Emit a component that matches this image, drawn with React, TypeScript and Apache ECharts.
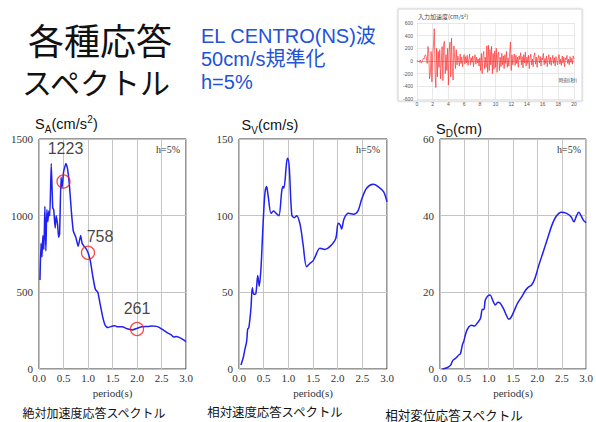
import React, { useEffect, useRef } from "react";
import * as echarts from "echarts";

// ---- Absolute acceleration response spectrum S_A (cm/s^2)
const saPeriods = [0.02, 0.04, 0.06, 0.08, 0.10, 0.12, 0.14, 0.16, 0.18, 0.20, 0.22, 0.25, 0.28, 0.30, 0.33, 0.35, 0.38, 0.40, 0.42, 0.45, 0.47, 0.50, 0.52, 0.55, 0.58, 0.62, 0.66, 0.70, 0.75, 0.80, 0.85, 0.88, 0.92, 0.95, 1.00, 1.05, 1.10, 1.15, 1.20, 1.25, 1.30, 1.35, 1.40, 1.50, 1.55, 1.60, 1.70, 1.80, 1.90, 2.00, 2.10, 2.20, 2.30, 2.40, 2.50, 2.60, 2.70, 2.75, 2.80, 2.85, 2.90, 2.95, 3.00];
const saValues = [580, 820, 730, 870, 780, 1060, 770, 1040, 960, 1030, 1000, 1340, 1050, 1040, 920, 1000, 940, 860, 880, 1250, 1180, 1280, 1310, 1340, 1310, 1200, 1030, 900, 860, 800, 870, 820, 800, 790, 760, 700, 600, 520, 500, 420, 340, 285, 270, 280, 282, 275, 275, 262, 255, 265, 275, 277, 280, 278, 262, 240, 222, 208, 212, 208, 200, 190, 178];

// marked points on S_A
const markPeriods = [0.5, 1.0, 2.0];
const markValues = [1223, 758, 261];

// ---- Relative velocity response spectrum S_V (cm/s)
const svPeriods = [0.04, 0.09, 0.12, 0.155, 0.176, 0.20, 0.243, 0.27, 0.30, 0.34, 0.38, 0.41, 0.446, 0.49, 0.527, 0.56, 0.59, 0.65, 0.70, 0.77, 0.81, 0.865, 0.89, 0.91, 0.966, 0.99, 1.02, 1.07, 1.12, 1.17, 1.24, 1.30, 1.37, 1.44, 1.50, 1.54, 1.64, 1.74, 1.84, 1.96, 2.01, 2.05, 2.08, 2.13, 2.22, 2.32, 2.41, 2.49, 2.59, 2.72, 2.82, 2.93, 3.00];
const svValues = [2.6, 8, 13, 18, 26, 27, 40, 53, 48.7, 49, 61, 54, 66, 96, 115, 119, 113, 101.5, 103, 101, 100, 115.6, 119, 118, 135, 137.4, 131, 100.4, 98.7, 100, 94, 81, 66.7, 69, 70.5, 73, 78.7, 78, 79.8, 85, 95, 94, 91.3, 98, 101.5, 101, 103, 111, 118, 120.5, 119, 115.6, 109];

// ---- Relative displacement response spectrum S_D (cm)
const sdPeriods = [0.05, 0.155, 0.22, 0.26, 0.32, 0.39, 0.42, 0.46, 0.49, 0.54, 0.595, 0.65, 0.71, 0.76, 0.83, 0.87, 0.90, 0.93, 0.985, 1.03, 1.08, 1.135, 1.19, 1.24, 1.30, 1.36, 1.41, 1.46, 1.53, 1.59, 1.68, 1.76, 1.81, 1.88, 1.95, 2.02, 2.12, 2.22, 2.30, 2.39, 2.49, 2.60, 2.69, 2.75, 2.80, 2.85, 2.90, 2.95, 3.00];
const sdValues = [0, 0.4, 1, 2.2, 2.8, 3.7, 4, 6.3, 7.3, 9.7, 11, 11.4, 11.2, 11.9, 13.2, 15.6, 15.5, 18, 19.1, 19.3, 18, 16.7, 17.4, 17.1, 15.8, 14.1, 13, 13.5, 15.4, 17.1, 18.9, 20.6, 21.3, 21.9, 23.7, 26.7, 30.6, 34.5, 37.6, 39.9, 40.9, 40.6, 39.7, 38.4, 39.9, 40.9, 39.9, 38.7, 38.2];

// ---- Input acceleration (cm/s^2), sampled every 0.1 s from 0 s
const accelStep = 0.1;
const accelValues = [
  0, 5, -10, -20, 15, -25, -30, 10, 40, 30, 80,
  100, 50, -40, 230, 120, -280, -200, 150, -330, 100,
  250, 510, -150, -420, 200, -250, 150, -100, 180, -280,
  -20, 230, -310, 280, 310, -200, 100, -150, 200, -380,
  150, 300, -250, 360, -100, -300, 240, 50, -120, 180,
  -60, 80, 30, -80, 110, -40, 60, -90, 40, 100,
  -50, 70, -30, 90, -70, 20, 110, -60, 50, -20,
  80, -90, 40, 100, -50, 60, -30, 30, -80, 50,
  -150, 120, -200, 80, 150, -120, 60, -100, 240, -180,
  250, -150, 180, -60, 230, -200, 120, -130, 160, -100,
  200, -180, 90, 140, -150, 60, -90, 120, -60, 80,
  -120, 100, -40, 150, -100, 50, -80, 120, 300, -150,
  100, -60, 40, 110, -70, 90, -40, 60, -100, 80,
  20, 130, -60, 70, -110, 100, -30, 140, -80, 60,
  -40, 90, -120, 50, 110, -60, 30, -90, 80, 130,
  -50, 60, -100, 40, 90, -30, 70, -80, 50, 20,
  120, -60, 40, -40, 80, -90, 30, 100, -50, 60,
  -70, 20, 90, -40, 50, -80, 70, 10, -60, 40,
  100, -50, 30, -70, 80, -30, 60, -90, 50, 20,
  90, -40, 30, -60, 70, -20, 40, -50, 80, 30,
];

const serif = "'Liberation Serif', 'DejaVu Serif', serif";
const sans = "'Liberation Sans', Arial, 'Noto Sans CJK JP', sans-serif";
const cjk = "'Noto Sans CJK JP', 'Liberation Sans', sans-serif";
const lineBlue = "#2020f0";

function pairs(xs: number[], ys: number[]) {
  return xs.map((x, i) => [x, ys[i]]);
}

function specX(gridIndex: number) {
  return {
    type: "value",
    gridIndex,
    min: 0,
    max: 3,
    interval: 0.5,
    axisLine: { show: false },
    axisTick: { show: false },
    splitLine: { show: true, lineStyle: { color: "#c4c4c4", width: 1 } },
    axisLabel: {
      formatter: (v: number) => v.toFixed(1),
      fontFamily: serif,
      fontSize: 11,
      color: "#333",
      margin: 3,
    },
    name: "period(s)",
    nameLocation: "middle",
    nameGap: 17,
    nameTextStyle: { fontFamily: serif, fontSize: 11, color: "#333" },
  };
}

function specY(gridIndex: number, max: number, interval: number) {
  return {
    type: "value",
    gridIndex,
    min: 0,
    max,
    interval,
    axisLine: { show: false },
    axisTick: { show: false },
    splitLine: { show: true, lineStyle: { color: "#c4c4c4", width: 1 } },
    axisLabel: { fontFamily: serif, fontSize: 11, color: "#333", margin: 6, formatter: (v: number) => String(v) },
  };
}

function txt(text: string, x: number, y: number, fontSize: number, fontFamily: string, fill: string, align = "left") {
  return {
    type: "text",
    x,
    y,
    z: 10,
    style: { text, fontSize, fontFamily, fill, align, verticalAlign: "middle", lineHeight: fontSize },
  };
}

export default function App() {
  const ref = useRef<HTMLDivElement>(null);
  useEffect(() => {
    const chart = echarts.init(ref.current!, null, { renderer: "svg" });
    const gridBase = { show: true, borderColor: "#333", borderWidth: 1, backgroundColor: "#fff", containLabel: false };
    const option: any = {
      animation: false,
      backgroundColor: "#fff",
      grid: [
        { left: 417, right: 22, top: 23, bottom: 323, show: false, containLabel: false },
        { ...gridBase, left: 39, width: 147, top: 139, height: 230 },
        { ...gridBase, left: 239, width: 148, top: 139, height: 230 },
        { ...gridBase, left: 440, width: 148, top: 139, height: 230 },
      ],
      xAxis: [
        {
          type: "value",
          gridIndex: 0,
          min: 0,
          max: 20,
          interval: 2,
          axisLine: { show: true, onZero: true, lineStyle: { color: "#999", width: 0.6 } },
          axisTick: { show: false },
          splitLine: { show: true, lineStyle: { color: "#d8d8d8", width: 0.6 } },
          axisLabel: { fontSize: 5, color: "#555", margin: 2, fontFamily: sans },
        },
        specX(1),
        specX(2),
        specX(3),
      ],
      yAxis: [
        {
          type: "value",
          gridIndex: 0,
          min: -600,
          max: 600,
          interval: 200,
          axisLine: { show: false },
          axisTick: { show: false },
          splitLine: { show: true, lineStyle: { color: "#d8d8d8", width: 0.6 } },
          axisLabel: { fontSize: 5, color: "#555", margin: 4, fontFamily: sans },
        },
        specY(1, 1500, 500),
        specY(2, 150, 50),
        specY(3, 60, 20),
      ],
      series: [
        {
          type: "line",
          xAxisIndex: 0,
          yAxisIndex: 0,
          data: accelValues.map((v, i) => [i * accelStep, v]),
          showSymbol: false,
          lineStyle: { color: "#ff3333", width: 0.7 },
        },
        {
          type: "line",
          xAxisIndex: 1,
          yAxisIndex: 1,
          data: pairs(saPeriods, saValues),
          showSymbol: false,
          smooth: 0.15,
          lineStyle: { color: lineBlue, width: 1.5 },
        },
        {
          type: "scatter",
          xAxisIndex: 1,
          yAxisIndex: 1,
          symbol: "circle",
          symbolSize: 13,
          z: 5,
          itemStyle: { color: "rgba(0,0,0,0)", borderColor: "#ff1a1a", borderWidth: 1.3 },
          label: {
            show: true,
            position: "top",
            distance: 5,
            fontSize: 16,
            fontFamily: sans,
            color: "#111",
            formatter: (p: any) => String(p.value[1]),
          },
          data: markPeriods.map((x, i) => ({
            value: [x, markValues[i]],
            label: { offset: i === 0 ? [2, -13] : i === 1 ? [12, 4] : [0, 0] },
          })),
        },
        {
          type: "line",
          xAxisIndex: 2,
          yAxisIndex: 2,
          data: pairs(svPeriods, svValues),
          showSymbol: false,
          smooth: 0.3,
          lineStyle: { color: lineBlue, width: 1.5 },
        },
        {
          type: "line",
          xAxisIndex: 3,
          yAxisIndex: 3,
          data: pairs(sdPeriods, sdValues),
          showSymbol: false,
          smooth: 0.3,
          lineStyle: { color: lineBlue, width: 1.5 },
        },
      ],
      graphic: [
        {
          type: "rect",
          z: -10,
          shape: { x: 398, y: 9, width: 184, height: 92 },
          style: { fill: "#fff", stroke: "#d4d4d4", lineWidth: 1, shadowBlur: 2, shadowColor: "rgba(0,0,0,0.15)" },
        },
        txt("各種応答", 28, 39, 36, cjk, "#111"),
        txt("スペクトル", 22, 81, 30, cjk, "#111"),
        txt("EL CENTRO(NS)波", 201, 36, 20, sans, "#2352d6"),
        txt("50cm/s規準化", 201, 59, 20, sans, "#2352d6"),
        txt("h=5%", 201, 82, 20, sans, "#2352d6"),
        txt("入力加速度(cm/s²)", 418, 16, 6, cjk, "#444"),
        txt("時刻(秒)", 568, 79, 5, cjk, "#444", "center"),
        // S_A title
        txt("S", 35, 124, 14.5, sans, "#111"),
        txt("A", 44.8, 129, 10, sans, "#111"),
        txt("(cm/s", 51.5, 124, 14.5, sans, "#111"),
        txt("2", 87.3, 119.5, 10, sans, "#111"),
        txt(")", 93, 124, 14.5, sans, "#111"),
        // S_V title
        txt("S", 241.5, 125, 14.5, sans, "#111"),
        txt("V", 251.2, 130.5, 10, sans, "#111"),
        txt("(cm/s)", 258, 125, 14.5, sans, "#111"),
        // S_D title
        txt("S", 436, 128.5, 14.5, sans, "#111"),
        txt("D", 445.7, 133.5, 10, sans, "#111"),
        txt("(cm)", 453, 128.5, 14.5, sans, "#111"),
        // h=5%
        txt("h=5%", 180, 149, 10, serif, "#333", "right"),
        txt("h=5%", 380, 149, 10, serif, "#333", "right"),
        txt("h=5%", 581, 149, 10, serif, "#333", "right"),
        // captions
        txt("絶対加速度応答スペクトル", 94, 412, 12, cjk, "#111", "center"),
        txt("相対速度応答スペクトル", 275, 412, 12.4, cjk, "#111", "center"),
        txt("相対変位応答スペクトル", 454, 414, 12.6, cjk, "#111", "center"),
      ],
    };
    chart.setOption(option);
    return () => chart.dispose();
  }, []);
  return (
    <div
      ref={ref}
      style={{ position: "absolute", left: 0, top: 0, width: 596, height: 422, background: "#fff" }}
    />
  );
}
